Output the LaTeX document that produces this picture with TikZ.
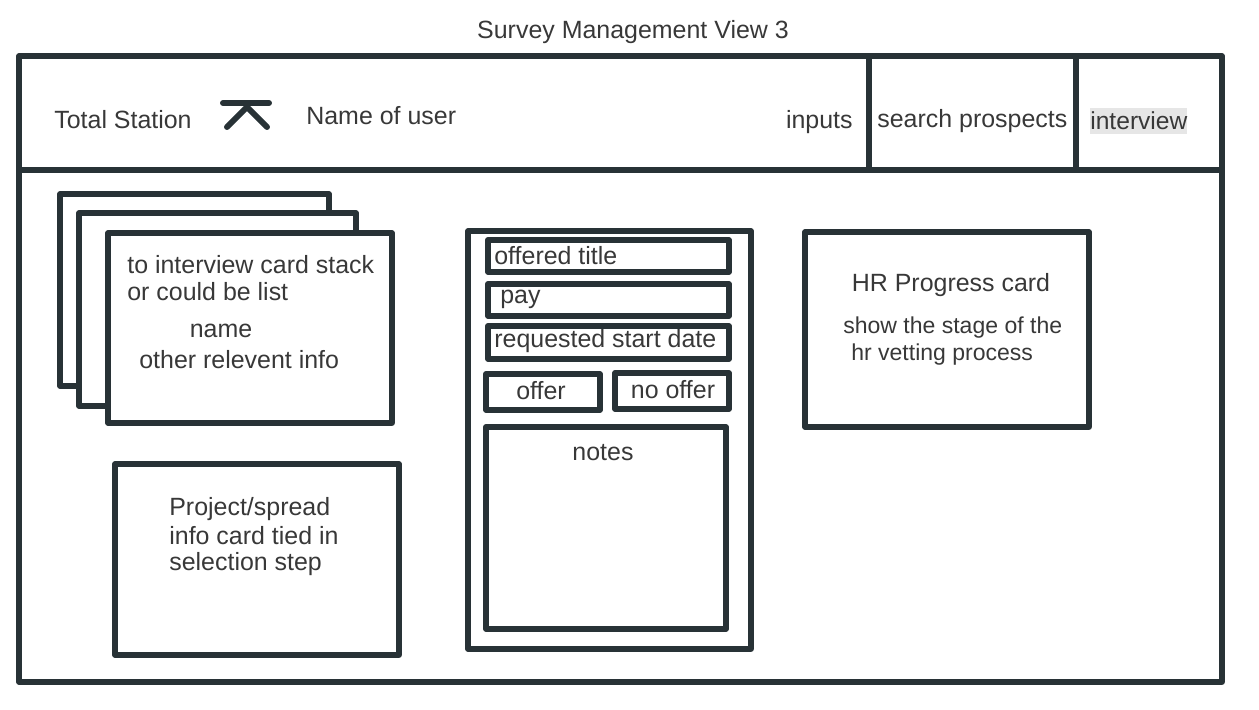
\documentclass[tikz,border=0pt]{standalone}
\usepackage{fontspec}
\setmainfont{Liberation Sans}
\usetikzlibrary{calc}
\definecolor{ink}{HTML}{283236}
\definecolor{txt}{HTML}{383838}
\definecolor{hilite}{HTML}{E6E6E6}
\tikzset{
	box/.style={line width=2.9pt, color=ink, line join=round},
	field/.style={line width=3.3pt, color=ink, line join=round},
	lbl/.style={inner sep=0pt, text=txt, font=\fontsize{14.2}{17}\selectfont},
	small/.style={lbl, font=\fontsize{13.1}{15.5}\selectfont},
}

\begin{document}
\begin{tikzpicture}[x=0.02cm, y=-0.02cm]
			%%%%% START %%%%%
			\useasboundingbox (0, 0) rectangle (1259, 710);
			
			\node[lbl] (title) at (633, 32) {Survey Management View 3};
			
			\draw[box] (19, 56) rectangle (1222, 682);
			\draw[box] (19, 170) -- (1222, 170);
			\draw[box] (869, 56) -- (869, 170);
			\draw[box] (1076, 56) -- (1076, 170);
			
			\node[lbl, anchor=west] (station) at (54, 120) {Total Station};
			\draw[line width=3.4pt, color=ink, line cap=round] (223, 103) -- (269, 103);
			\draw[line width=3.4pt, color=ink, line cap=round, line join=round] (227, 127) -- (247, 107) -- (267, 127);
			\node[lbl, anchor=west] (user) at (306, 116) {Name of user};
			
			\node[lbl, anchor=east] (inputs) at (853, 122) {inputs};
			\node[lbl, anchor=west] (search) at (877, 121) {search prospects};
			\node[lbl, anchor=west, fill=hilite, font=\fontsize{14}{17}\selectfont, inner xsep=0pt, inner ysep=2.2pt] (interview) at (1090, 121) {interview};
			
			%% card stack
			\draw[box, fill=white] (60, 194) rectangle (329, 386);
			\draw[box, fill=white] (79, 213) rectangle (356, 406);
			\draw[box, fill=white] (108, 233) rectangle (392, 423);
			\node[lbl, anchor=west] (stack1) at (127, 265) {to interview card stack};
			\node[lbl, anchor=west] (stack2) at (127, 292) {or could be list};
			\node[lbl] (name) at (221, 331) {name};
			\node[lbl, anchor=west] (other) at (139, 360) {other relevent info};
			
			%% project card
			\draw[box] (115, 464) rectangle (399, 655);
			\node[lbl, anchor=west] (proj1) at (169, 509) {Project/spread};
			\node[lbl, anchor=west] (proj2) at (169, 536) {info card tied in};
			\node[lbl, anchor=west] (proj3) at (169, 564) {selection step};
			
			%% offer panel
			\draw[box] (468, 231) rectangle (751, 649);
			\draw[field] (488, 240) rectangle (729, 272);
			\node[lbl, anchor=west] (otitle) at (494, 256) {offered title};
			\draw[field] (488, 284) rectangle (729, 316);
			\node[lbl, anchor=west] (pay) at (500, 299) {pay};
			\draw[field] (488, 326) rectangle (729, 359);
			\node[lbl, anchor=west] (start) at (494, 341) {requested start date};
			\draw[field] (486, 374) rectangle (600, 410);
			\node[lbl] (offer) at (541, 391) {offer};
			\draw[field] (615, 373) rectangle (729, 409);
			\node[lbl] (nooffer) at (673, 390) {no offer};
			\draw[field] (486, 427) rectangle (726, 629);
			\node[lbl] (notes) at (603, 453) {notes};
			
			%% hr card
			\draw[box] (805, 232) rectangle (1089, 427);
			\node[lbl] (hr) at (951, 285) {HR Progress card};
			\node[small, anchor=west] (hr1) at (843, 328) {show the stage of the};
			\node[small, anchor=west] (hr2) at (851, 355) {hr vetting process};
			%%%%% END %%%%%
		\end{tikzpicture}
\end{document}
